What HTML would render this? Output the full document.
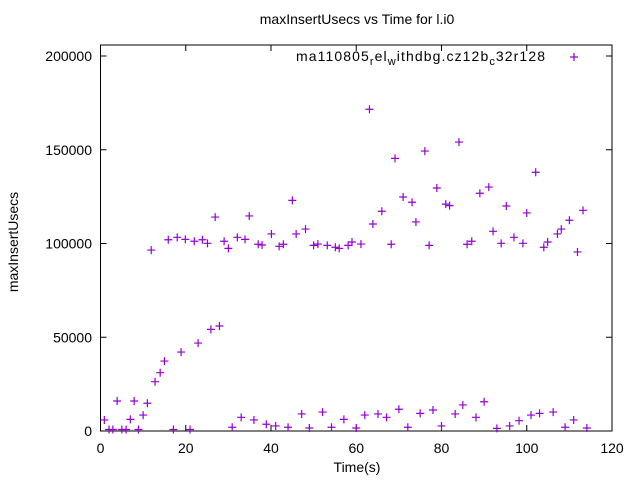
<!DOCTYPE html>
<html><head><meta charset="utf-8"><style>
body{margin:0;background:#fff}
svg text{font-family:"Liberation Sans",sans-serif;font-size:14px;fill:#000}
</style></head><body>
<svg id="chart" width="640" height="480" viewBox="0 0 640 480" xmlns="http://www.w3.org/2000/svg">
<rect width="640" height="480" fill="#fff"/>
<text x="357" y="24" text-anchor="middle">maxInsertUsecs vs Time for l.i0</text>
<text transform="translate(18,242) rotate(-90)" text-anchor="middle">maxInsertUsecs</text>
<text x="357" y="472" text-anchor="middle">Time(s)</text>
<g id="axes"></g>
<g id="points"></g>
<g>
<text x="296" y="61" textLength="249" lengthAdjust="spacing">ma110805<tspan font-size="11" dy="4">r</tspan><tspan dy="-4">el</tspan><tspan font-size="11" dy="4">w</tspan><tspan dy="-4">ithdbg.cz12b</tspan><tspan font-size="11" dy="4">c</tspan><tspan dy="-4">32r128</tspan></text>
<path d="M570 57h8M574 53v8" stroke="#9400d3" stroke-width="1.2"/>
</g>
</svg>
<script>
const xTicks=[0,20,40,60,80,100,120];
const yTicks=[0,50000,100000,150000,200000];
const times=[0.9,2.0,2.9,3.9,5.0,6.0,7.0,7.9,8.9,10.0,11.0,11.9,12.8,14.0,15.0,15.9,17.1,18.0,18.9,19.9,21.0,22.0,22.9,23.9,25.1,25.9,26.9,27.9,29.0,30.0,30.9,32.1,33.0,33.9,34.9,36.0,37.0,37.9,38.9,40.1,41.1,41.9,42.9,44.0,45.0,45.9,47.2,48.1,49.0,50.0,51.0,52.1,53.2,54.2,55.1,56.0,57.1,58.1,59.0,60.0,61.1,62.0,63.1,63.9,65.1,66.0,67.1,68.2,69.1,70.0,71.0,72.1,73.1,74.0,75.0,76.1,77.1,78.0,78.9,80.0,81.0,81.9,83.2,84.1,85.0,86.0,87.1,88.1,89.0,90.0,91.1,92.1,93.0,94.0,95.2,96.0,97.0,98.2,99.1,100.0,101.0,102.1,103.0,104.0,104.9,106.2,107.2,108.1,109.0,110.0,111.0,111.9,113.2,114.1];
const values=[5900,800,800,16000,800,800,6200,16000,800,8500,14800,96500,26300,31100,37300,102000,800,103300,42100,102200,800,101200,46900,102000,100100,54200,114100,56000,101200,97400,2000,103300,7300,102200,114700,5900,99600,99200,3600,105100,2700,98500,99600,2000,123000,105100,9100,107700,1600,99000,99700,10100,99000,2000,98000,97400,6200,99000,100800,1600,99700,8500,171600,110400,9100,117200,7300,99600,145400,11600,124800,2000,122000,111500,9400,149300,99000,11200,129600,2700,121000,120200,9100,154100,13900,99600,101200,7300,126800,15600,130100,106500,1400,100100,120000,2700,103300,5500,100100,116300,8500,138000,9400,98000,100800,10100,105100,107700,2000,112400,5900,95500,117700,1600];
const L=100.5,R=612,T=45,B=431;
const xs=t=>L+t*(R-L)/120;
const ys=v=>B-v*(B-56)/200000;
const NS='http://www.w3.org/2000/svg';
const ax=document.getElementById('axes');
function mk(tag,attrs,parent){const e=document.createElementNS(NS,tag);for(const k in attrs)e.setAttribute(k,attrs[k]);parent.appendChild(e);return e;}
const frame=mk('rect',{x:L,y:T,width:R-L,height:B-T,fill:'none',stroke:'#000','stroke-width':1},ax);


xTicks.forEach(t=>{const x=xs(t);
 const p=mk('path',{d:`M${x} ${B}v-6M${x} ${T}v6`,stroke:'#000','stroke-width':1},ax);
 
 
 const tx=mk('text',{x:x,y:453,'text-anchor':'middle'},ax);tx.textContent=t;
 
 
});
yTicks.forEach(v=>{const y=ys(v);
 const p=mk('path',{d:`M${L} ${y}h6M${R} ${y}h-6`,stroke:'#000','stroke-width':1},ax);
 
 
 const tx=mk('text',{x:92,y:y+5,'text-anchor':'end'},ax);tx.textContent=v;
 
 
});
const pg=document.getElementById('points');
times.forEach((t,i)=>{const x=xs(t),y=ys(values[i]);
 const p=mk('path',{d:`M${x-4} ${y}h8M${x} ${y-4}v8`,stroke:'#9400d3','stroke-width':1.2},pg);
 
 
});
</script>
</body></html>
